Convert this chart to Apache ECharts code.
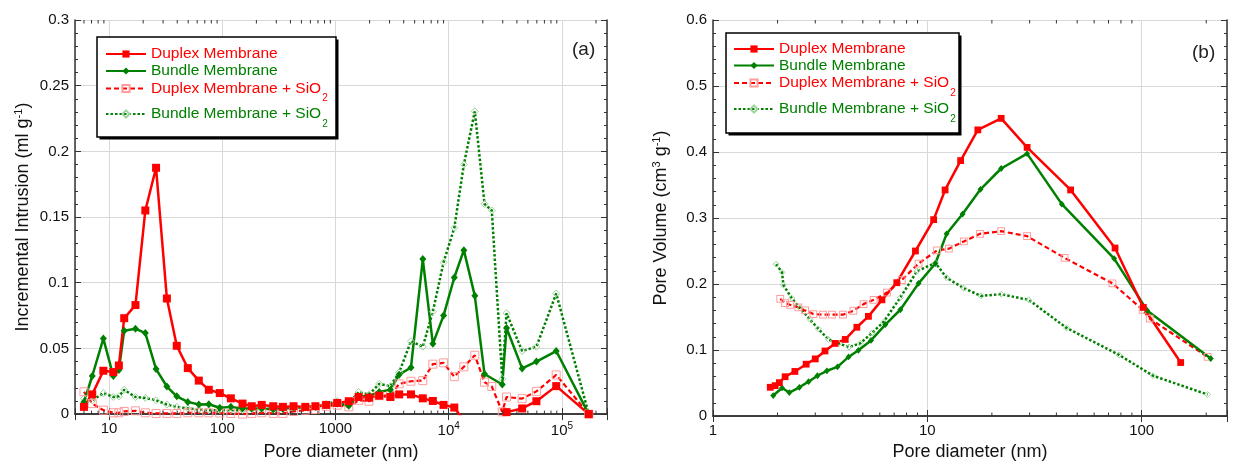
<!DOCTYPE html>
<html><head><meta charset="utf-8">
<script src="https://cdn.jsdelivr.net/npm/echarts@6/dist/echarts.min.js"></script>
<style>html,body{margin:0;padding:0;background:#fff}#c{width:1233px;height:466px}</style>
</head><body><div id="c"></div>
<script>
// ---------- data ----------
const seriesNames = ['Duplex Membrane', 'Bundle Membrane', 'Duplex Membrane + SiO2', 'Bundle Membrane + SiO2'];

// Panel (a): incremental intrusion vs pore diameter (nm)
const xA = [6.0, 7.1, 8.9, 10.9, 12.2, 13.6, 17.1, 20.9, 26, 32.4, 39.6, 49.6, 62, 76, 95, 119, 151, 182, 223, 282, 343, 426, 541, 664, 826, 1035, 1310, 1600, 1977, 2430, 3050, 3650, 4640, 5900, 7240, 9000, 11200, 13600, 17000, 20700, 24000, 29700, 32400, 44500, 59500, 89000, 172600];
const aDuplex = [0.0055, 0.015, 0.033, 0.032, 0.037, 0.073, 0.083, 0.155, 0.1875, 0.088, 0.052, 0.035, 0.0255, 0.0185, 0.016, 0.012, 0.008, 0.006, 0.007, 0.006, 0.0055, 0.006, 0.0055, 0.006, 0.007, 0.0085, 0.0098, 0.013, 0.0125, 0.014, 0.013, 0.015, 0.015, 0.012, 0.010, 0.007, 0.005, -0.005, -0.005, -0.005, -0.005, -0.003, 0.0015, 0.0043, 0.0098, 0.0213, 0];
const aBundle = [0.0093, 0.029, 0.0575, 0.029, 0.0335, 0.0635, 0.065, 0.0617, 0.0343, 0.021, 0.0135, 0.0093, 0.0073, 0.0075, 0.0048, 0.0055, 0.0043, 0.0043, 0.0043, 0.0035, 0.0038, 0.005, 0.005, 0.0055, 0.0068, 0.008, 0.0063, 0.0135, 0.0138, 0.0168, 0.0185, 0.030, 0.0355, 0.118, 0.0535, 0.075, 0.104, 0.1248, 0.090, 0.0305, null, 0.0225, 0.0655, 0.0348, 0.040, 0.048, 0];
const aDuplexSi = [0.017, 0.008, 0.003, 0.001, 0.001, 0.002, 0.0025, 0.001, 0.0005, 0.0005, 0.0005, 0.001, 0.001, 0.001, 0.0008, 0.0005, 0, 0.0005, 0.001, 0.0005, 0.0005, 0.002, 0.003, 0.0035, 0.006, 0.0068, 0.0055, 0.0105, 0.0098, 0.014, 0.014, 0.023, 0.025, 0.0255, 0.038, 0.039, 0.0285, 0.036, 0.0448, 0.0243, 0.021, 0.0017, 0.013, 0.0118, 0.0173, 0.0298, 0];
const aBundleSi = [0.0118, 0.0105, 0.016, 0.013, 0.0135, 0.0185, 0.013, 0.0123, 0.0105, 0.0073, 0.0055, 0.0043, 0.0035, 0.003, 0.003, 0.003, 0.003, 0.0035, 0.004, 0.004, 0.0045, 0.005, 0.0055, 0.006, 0.0075, 0.0098, 0.008, 0.0168, 0.0148, 0.023, 0.0213, 0.0318, 0.0555, 0.0513, 0.078, 0.1155, 0.1418, 0.19, 0.2305, 0.16, 0.155, 0.0268, 0.0768, 0.048, 0.0513, 0.0918, 0];

// Panel (b): pore volume vs pore diameter (nm)
const bDuplexX = [1.85, 1.95, 2.04, 2.17, 2.41, 2.72, 3.0, 3.33, 3.71, 4.14, 4.69, 5.31, 6.14, 7.2, 8.8, 10.7, 12.1, 14.3, 17.2, 22.1, 29.2, 46.6, 75.1, 101.8, 152];
const bDuplexY = [0.0435, 0.046, 0.0505, 0.0595, 0.0675, 0.0785, 0.0865, 0.0985, 0.11, 0.116, 0.1345, 0.151, 0.176, 0.202, 0.25, 0.2975, 0.3425, 0.387, 0.4335, 0.451, 0.407, 0.3425, 0.2545, 0.1645, 0.081];
const bBundleX = [1.91, 2.10, 2.27, 2.53, 2.79, 3.07, 3.40, 3.81, 4.29, 4.77, 5.46, 6.37, 7.48, 9.1, 10.9, 12.3, 14.6, 17.7, 22.1, 29.2, 42.4, 74.4, 106, 210];
const bBundleY = [0.031, 0.0425, 0.0355, 0.0435, 0.052, 0.061, 0.0685, 0.0745, 0.0895, 0.0995, 0.1145, 0.1385, 0.161, 0.201, 0.231, 0.276, 0.306, 0.3435, 0.375, 0.3975, 0.321, 0.2385, 0.16, 0.087];
const bDuplexSiX = [2.06, 2.17, 2.29, 2.5, 2.69, 2.94, 3.26, 3.59, 4.04, 4.52, 5.04, 5.62, 6.48, 7.6, 9.1, 11.1, 12.6, 14.8, 17.6, 22.1, 29.2, 43.7, 73, 101, 109, 203];
const bDuplexSiY = [0.1775, 0.171, 0.1685, 0.1645, 0.16, 0.1545, 0.1535, 0.1535, 0.1535, 0.1595, 0.1695, 0.176, 0.187, 0.206, 0.231, 0.251, 0.2535, 0.2645, 0.276, 0.28, 0.2725, 0.2395, 0.201, 0.161, 0.1475, 0.0895];
const bBundleSiX = [1.97, 2.10, 2.13, 2.33, 2.55, 2.84, 3.10, 3.46, 3.85, 4.31, 4.86, 5.52, 6.25, 7.48, 8.95, 10.9, 12.3, 14.8, 17.8, 22.1, 29.7, 44.6, 78.5, 113, 203];
const bBundleSiY = [0.23, 0.2175, 0.1985, 0.1785, 0.1635, 0.146, 0.132, 0.116, 0.11, 0.1045, 0.11, 0.126, 0.1425, 0.1795, 0.2195, 0.232, 0.2095, 0.1935, 0.182, 0.1845, 0.176, 0.1335, 0.0925, 0.061, 0.0325];

// axis ranges / tick labels
const aXRange = [5, 250000];
const aYRange = [0, 0.3];
const aYStep = 0.05;
const bXRange = [1, 250];
const bYRange = [0, 0.6];
const bYStep = 0.1;
const minorMultipliers = [2, 3, 4, 5, 6, 7, 8, 9];
const aDecades = [1, 10, 100, 1000, 10000, 100000];
const bDecades = [1, 10, 100];
const panelLabels = ['(a)', '(b)'];
const xTitle = 'Pore diameter (nm)';
const aYTitle = 'Incremental Intrusion (ml g{sup|-1})';
const bYTitle = 'Pore Volume (cm{sup|3} g{sup|-1})';

// ---------- chart ----------
const FONT = '"Liberation Sans", Arial, sans-serif';
const RED = '#ff0000', GREEN = '#008000', PINK = '#ff9d9d', LGREEN = '#9dd49d';
const AXIS = '#333';
const zip = (xs, ys) => xs.map((x, i) => [x, ys[i]]).filter(p => p[1] !== null && p[1] !== undefined);

function minorList(decades, range) {
  const out = [];
  decades.forEach(d => minorMultipliers.forEach(m => { const v = d * m; if (v > range[0] && v < range[1]) out.push(v); }));
  return out;
}

function xLabelFmt(v) {
  const l = Math.log10(v);
  if (Math.abs(l - Math.round(l)) > 1e-6) return '';
  const p = Math.round(l);
  if (p >= 4) return '10{sup|' + p + '}';
  return String(Math.round(v));
}

function xAxes(gi, range) {
  return [{
    type: 'log', logBase: 10, gridIndex: gi, min: range[0], max: range[1], position: 'bottom',
    name: xTitle, nameLocation: 'middle', nameGap: 27,
    nameTextStyle: { fontSize: 18, color: '#111', fontFamily: FONT },
    axisLine: { show: true, lineStyle: { color: AXIS, width: 1.5 } },
    axisTick: { show: true, inside: true, length: 6, lineStyle: { color: AXIS } },
    axisLabel: { fontSize: 15, color: '#111', margin: 7, fontFamily: FONT, formatter: xLabelFmt,
      rich: { sup: { fontSize: 10, verticalAlign: 'top', padding: [0, 0, 9, 0], color: '#111' } } },
    splitLine: { show: true, lineStyle: { color: '#d9d9d9', width: 1 } }
  }, {
    type: 'log', logBase: 10, gridIndex: gi, min: range[0], max: range[1], position: 'top',
    axisLine: { show: true, lineStyle: { color: AXIS, width: 1.5 } },
    axisTick: { show: true, inside: true, length: 6, lineStyle: { color: AXIS } },
    axisLabel: { show: false }, splitLine: { show: false }
  }];
}

function yAxes(gi, range, step, title, gap) {
  return [{
    type: 'value', gridIndex: gi, min: range[0], max: range[1], interval: step, position: 'left',
    name: title, nameLocation: 'middle', nameGap: gap, nameRotate: 90,
    nameTextStyle: { fontSize: 18, color: '#111', fontFamily: FONT,
      rich: { sup: { fontSize: 11, verticalAlign: 'top', padding: [0, 0, 9, 0], color: '#111' } } },
    axisLine: { show: true, lineStyle: { color: AXIS, width: 1.5 } },
    axisTick: { show: true, inside: true, length: 6, lineStyle: { color: AXIS } },
    minorTick: { show: true, splitNumber: 5, length: 3, lineStyle: { color: AXIS } },
    axisLabel: { fontSize: 15, color: '#111', margin: 6, fontFamily: FONT },
    splitLine: { show: true, lineStyle: { color: '#d9d9d9', width: 1 } }
  }, {
    type: 'value', gridIndex: gi, min: range[0], max: range[1], interval: step, position: 'right',
    axisLine: { show: true, lineStyle: { color: AXIS, width: 1.5 } },
    axisTick: { show: true, inside: true, length: 6, lineStyle: { color: AXIS } },
    minorTick: { show: true, splitNumber: 5, length: 3, lineStyle: { color: AXIS } },
    axisLabel: { show: false }, splitLine: { show: false }
  }];
}

function lineSeries(name, kind, xi, yi, data, small) {
  const s = small ? 0.85 : 1;
  const base = { name, type: 'line', xAxisIndex: xi, yAxisIndex: yi, data, clip: true, animation: false, z: 3 };
  if (kind === 0) return Object.assign(base, { symbol: 'rect', symbolSize: 8 * s, itemStyle: { color: RED }, lineStyle: { color: RED, width: 2.5 } });
  if (kind === 1) return Object.assign(base, { symbol: 'diamond', symbolSize: [7 * s, 8 * s], itemStyle: { color: GREEN }, lineStyle: { color: GREEN, width: 2.5 } });
  if (kind === 2) return Object.assign(base, { symbol: 'rect', symbolSize: 8 * s, itemStyle: { color: 'rgba(0,0,0,0)', borderColor: PINK, borderWidth: 1 }, lineStyle: { color: RED, width: 2.2, type: [5, 3] } });
  return Object.assign(base, { symbol: 'diamond', symbolSize: 7 * s, itemStyle: { color: 'rgba(0,0,0,0)', borderColor: LGREEN, borderWidth: 1 }, lineStyle: { color: GREEN, width: 2.5, type: [2.5, 2] } });
}

function minorTickSeries(xi, yi, vals, yr) {
  return {
    type: 'custom', xAxisIndex: xi, yAxisIndex: yi, silent: true, clip: false, z: 6, animation: false,
    data: vals.map(v => [v, yr[0]]),
    renderItem: (params, api) => {
      const x = api.value(0);
      const b = api.coord([x, yr[0]]);
      const t = api.coord([x, yr[1]]);
      return { type: 'group', children: [
        { type: 'line', shape: { x1: b[0], y1: b[1], x2: b[0], y2: b[1] - 3.5 }, style: { stroke: AXIS, lineWidth: 1 } },
        { type: 'line', shape: { x1: t[0], y1: t[1], x2: t[0], y2: t[1] + 3.5 }, style: { stroke: AXIS, lineWidth: 1 } }
      ] };
    }
  };
}

// one legend component per row, so each row sits where the reference has it
const SUBPAD = 20;
function legendRow(i, left, centerY) {
  const hasSub = seriesNames[i].indexOf('SiO2') >= 0;
  const h = hasSub ? Math.max(18, 10 + SUBPAD) : 18;
  const col = i % 2 === 0 ? RED : GREEN;
  return {
    orient: 'vertical', left, top: centerY - h / 2, padding: 0, itemGap: 0, itemWidth: 40, itemHeight: 9,
    selectedMode: false, z: 20,
    textStyle: { fontSize: 15.5, lineHeight: 18, fontFamily: FONT, color: col,
      rich: { sub: { fontSize: 10, lineHeight: 10, padding: [SUBPAD, 0, 0, 1], color: col } } },
    formatter: n => n.replace('SiO2', 'SiO{sub|2}'),
    data: [{ name: seriesNames[i], textStyle: { color: col } }]
  };
}
function legendBox(x, y, w, h) {
  return [
    { type: 'rect', z: 15, silent: true, shape: { x: x + 2.5, y: y + 2.5, width: w, height: h }, style: { fill: '#000' } },
    { type: 'rect', z: 16, silent: true, shape: { x, y, width: w, height: h }, style: { fill: '#fff', stroke: '#000', lineWidth: 1.5 } }
  ];
}
const aRows = [54, 71, 88.5, 114];
const bRows = [49, 65.5, 83, 109];

const chart = echarts.init(document.getElementById('c'), null, { renderer: 'canvas' });
chart.setOption({
  backgroundColor: '#fff',
  animation: false,
  textStyle: { fontFamily: FONT },
  grid: [
    { left: 75, right: 626, top: 20, bottom: 47 },
    { left: 713, right: 6, top: 20, bottom: 47 }
  ],
  xAxis: [...xAxes(0, aXRange), ...xAxes(1, bXRange)],
  yAxis: [...yAxes(0, aYRange, aYStep, aYTitle, 42), ...yAxes(1, bYRange, bYStep, bYTitle, 42)],
  legend: [
    ...aRows.map((c, i) => legendRow(i, 105, c)),
    ...bRows.map((c, i) => legendRow(i, 733, c))
  ],
  graphic: [
    ...legendBox(97, 37, 239, 100),
    ...legendBox(726, 33, 233, 100),
    { type: 'text', left: 572, top: 40, z: 20, style: { text: panelLabels[0], fontSize: 19, fill: '#222', fontFamily: FONT } },
    { type: 'text', left: 1192, top: 43, z: 20, style: { text: panelLabels[1], fontSize: 19, fill: '#222', fontFamily: FONT } }
  ],
  series: [
    lineSeries(seriesNames[3], 3, 0, 0, zip(xA, aBundleSi)),
    lineSeries(seriesNames[2], 2, 0, 0, zip(xA, aDuplexSi)),
    lineSeries(seriesNames[1], 1, 0, 0, zip(xA, aBundle)),
    lineSeries(seriesNames[0], 0, 0, 0, zip(xA, aDuplex)),
    lineSeries(seriesNames[3], 3, 2, 2, zip(bBundleSiX, bBundleSiY), true),
    lineSeries(seriesNames[2], 2, 2, 2, zip(bDuplexSiX, bDuplexSiY), true),
    lineSeries(seriesNames[1], 1, 2, 2, zip(bBundleX, bBundleY), true),
    lineSeries(seriesNames[0], 0, 2, 2, zip(bDuplexX, bDuplexY), true),
    minorTickSeries(0, 0, minorList(aDecades, aXRange), aYRange),
    minorTickSeries(2, 2, minorList(bDecades, bXRange), bYRange)
  ]
});
</script>
</body></html>
